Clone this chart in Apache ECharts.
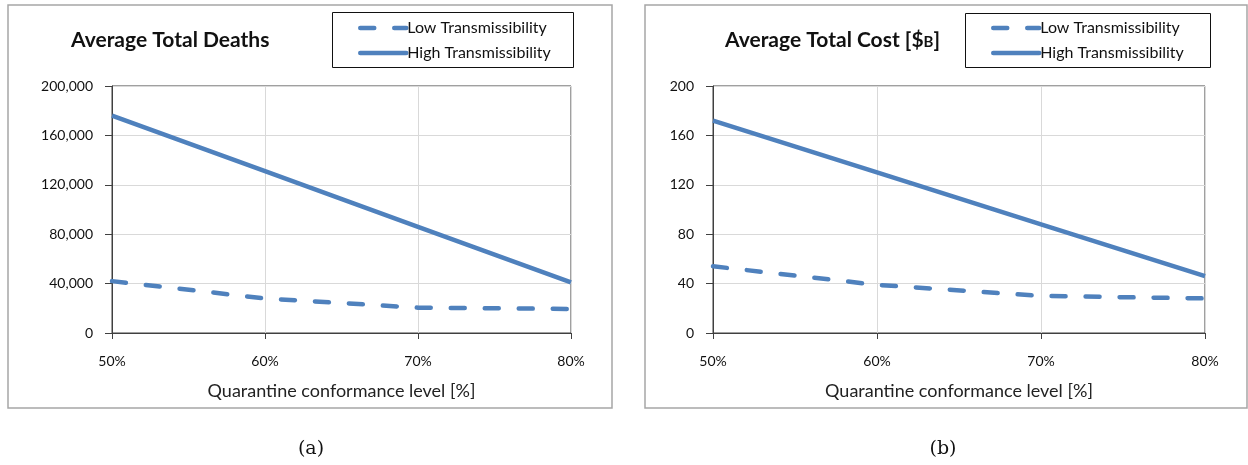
<!DOCTYPE html>
<html>
<head>
<meta charset="utf-8">
<script src="https://cdn.jsdelivr.net/npm/echarts@6/dist/echarts.min.js"></script>
<style>
  html, body { margin: 0; padding: 0; background: #ffffff; }
  #chart { width: 1248px; height: 465px; }
</style>
</head>
<body>
<div id="chart"></div>
<script>
// Quarantine conformance levels (%)
const conformance = [50, 60, 70, 80];
const xTicks = ['50%', '60%', '70%', '80%'];

// Average total deaths
const deathsLow = [42000, 28000, 20500, 19500];
const deathsHigh = [176000, 131000, 86000, 41000];

// Average total cost, billions of dollars
const costLow = [54, 39, 30, 28];
const costHigh = [172, 130, 88, 46];

const seriesNames = ['Low Transmissibility', 'High Transmissibility'];
const captions = ['(a)', '(b)'];

const FONT = 'Lato, "Open Sans", sans-serif';
const BLUE = '#4f81bd';
const LINE_W = 4.5;

const pairs = (xs, ys) => xs.map((x, i) => [x, ys[i]]);

function xAxisFor(gridIndex) {
  return {
    gridIndex,
    type: 'value',
    min: 50, max: 80, interval: 10,
    name: 'Quarantine conformance level [%]',
    nameLocation: 'middle',
    nameGap: 49,
    nameTextStyle: { fontFamily: FONT, fontSize: 18, color: '#222', verticalAlign: 'top' },
    axisLine: { lineStyle: { color: '#404040', width: 1 } },
    axisTick: { show: true, length: 6, lineStyle: { color: '#404040' } },
    axisLabel: { fontFamily: FONT, fontSize: 14, color: '#111', margin: 21,
      formatter: v => xTicks[conformance.indexOf(v)] },
    splitLine: { show: true, lineStyle: { color: '#d9d9d9', width: 1 } }
  };
}

function yAxisFor(gridIndex, max, interval, fmt) {
  return {
    gridIndex,
    type: 'value',
    min: 0, max, interval,
    axisLine: { show: true, lineStyle: { color: '#404040', width: 1 } },
    axisTick: { show: true, length: 7, inside: false, lineStyle: { color: '#404040' } },
    axisLabel: { fontFamily: FONT, fontSize: 14, color: '#111', margin: 19, formatter: fmt },
    splitLine: { show: true, lineStyle: { color: '#d9d9d9', width: 1 } }
  };
}

function lowSeries(xi, data) {
  return {
    name: seriesNames[0], type: 'line', xAxisIndex: xi, yAxisIndex: xi,
    data, symbol: 'none',
    lineStyle: { color: BLUE, width: LINE_W, type: [14, 20], cap: 'round' },
    itemStyle: { color: BLUE }
  };
}
function highSeries(xi, data) {
  return {
    name: seriesNames[1], type: 'line', xAxisIndex: xi, yAxisIndex: xi,
    data, symbol: 'none',
    lineStyle: { color: BLUE, width: LINE_W, type: 'solid' },
    itemStyle: { color: BLUE }
  };
}

function legendAt(left) {
  return {
    left, top: 15, orient: 'vertical',
    itemWidth: 46, itemHeight: 14, itemGap: 9,
    data: seriesNames,
    itemStyle: { opacity: 0 },
    lineStyle: { width: LINE_W, cap: 'round' },
    textStyle: { fontFamily: FONT, fontSize: 16, color: '#111', padding: [0, 0, 0, -4] },
    selectedMode: false
  };
}

const titleStyle = {
  fontFamily: FONT, fontSize: 21, fontWeight: 'bold', color: '#111',
  rich: { s: { fontFamily: FONT, fontSize: 15, fontWeight: 'bold', color: '#111', padding: [3, 0, 0, 0] } }
};

const chart = echarts.init(document.getElementById('chart'), null, { renderer: 'canvas' });

chart.setOption({
  backgroundColor: '#ffffff',
  animation: false,
  title: [
    { text: 'Average Total Deaths', left: 66, top: 25, textStyle: titleStyle },
    { text: 'Average Total Cost [${s|B}]', left: 720, top: 25, textStyle: titleStyle }
  ],
  legend: [legendAt(353), legendAt(986)],
  grid: [
    { left: 112, top: 86, width: 459, height: 247, show: true, borderColor: '#404040', borderWidth: 1, containLabel: false },
    { left: 713, top: 86, width: 492, height: 247, show: true, borderColor: '#404040', borderWidth: 1, containLabel: false }
  ],
  xAxis: [xAxisFor(0), xAxisFor(1)],
  yAxis: [
    yAxisFor(0, 200000, 40000, v => v.toLocaleString('en-US')),
    yAxisFor(1, 200, 40, v => String(v))
  ],
  series: [
    lowSeries(0, pairs(conformance, deathsLow)),
    highSeries(0, pairs(conformance, deathsHigh)),
    lowSeries(1, pairs(conformance, costLow)),
    highSeries(1, pairs(conformance, costHigh))
  ],
  graphic: [
    // outer frames of the two panels
    { type: 'rect', shape: { x: 8, y: 5, width: 604, height: 403 }, z: -10,
      style: { fill: 'none', stroke: '#a6a6a6', lineWidth: 1.5 } },
    { type: 'rect', shape: { x: 645, y: 5, width: 602, height: 403 }, z: -10,
      style: { fill: 'none', stroke: '#a6a6a6', lineWidth: 1.5 } },
    // legend frames
    { type: 'rect', shape: { x: 332.5, y: 12.5, width: 241, height: 55 }, z: -5,
      style: { fill: 'none', stroke: '#111', lineWidth: 1 } },
    { type: 'rect', shape: { x: 965.5, y: 13.5, width: 245, height: 54 }, z: -5,
      style: { fill: 'none', stroke: '#111', lineWidth: 1 } },
    // panel captions
    { type: 'text', x: 311, y: 449, style: { text: captions[0], font: '19px "DejaVu Serif", serif',
      fill: '#111', align: 'center', verticalAlign: 'middle' } },
    { type: 'text', x: 943, y: 449, style: { text: captions[1], font: '19px "DejaVu Serif", serif',
      fill: '#111', align: 'center', verticalAlign: 'middle' } }
  ]
});
</script>
</body>
</html>
